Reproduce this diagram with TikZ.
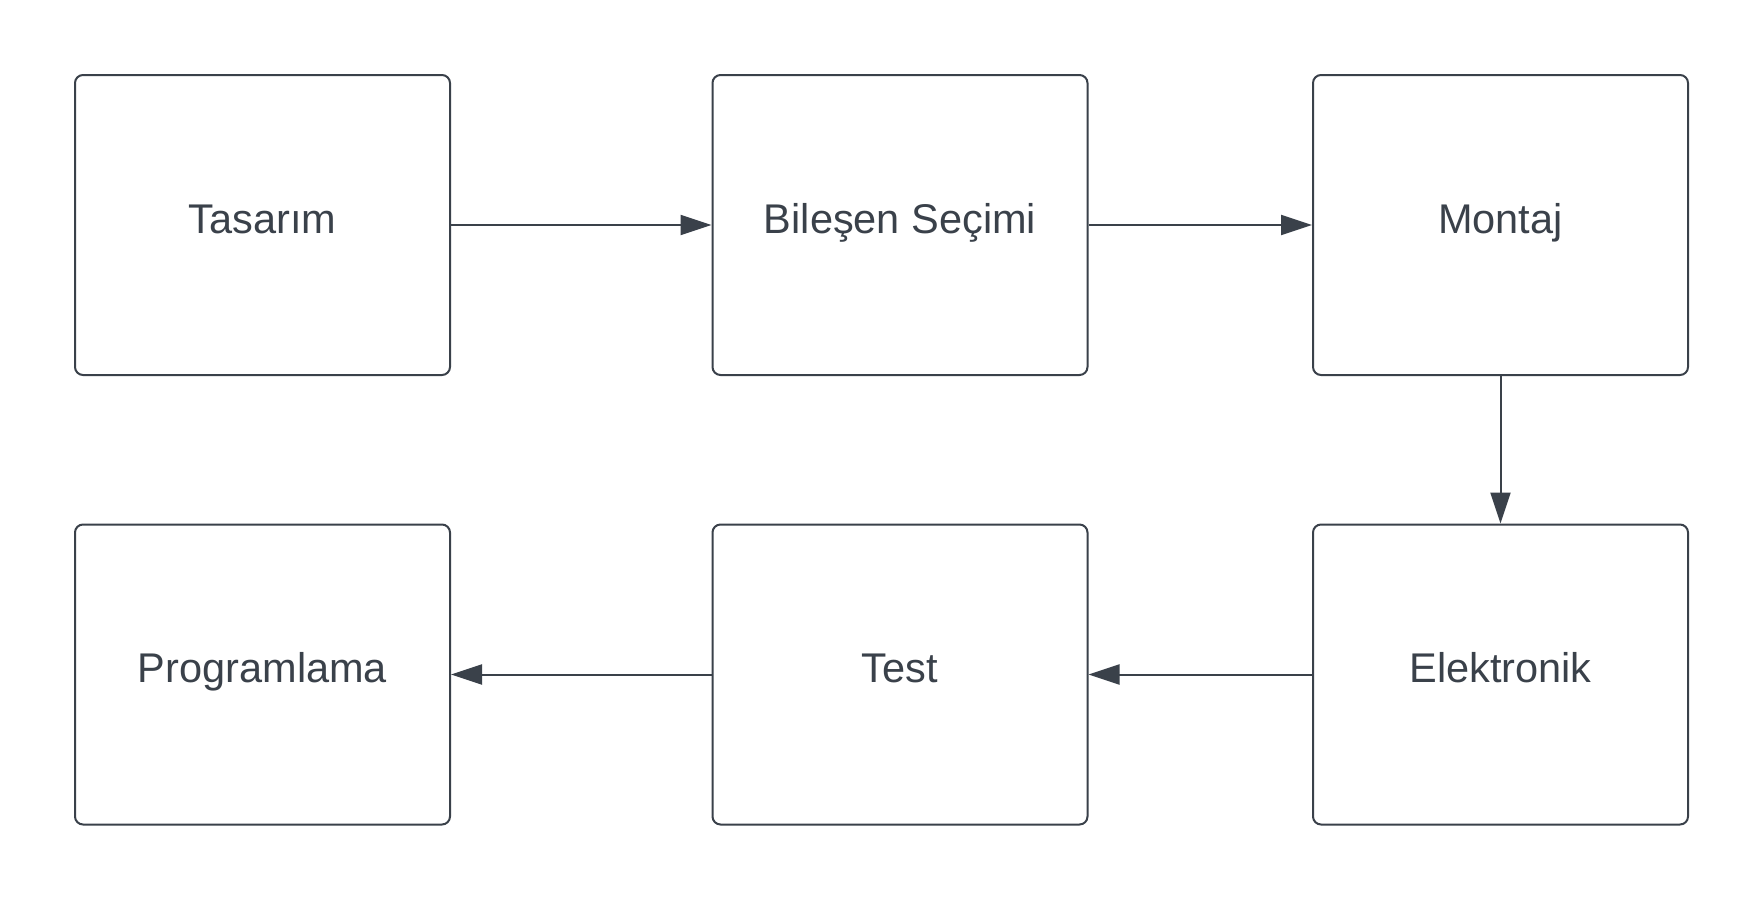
\documentclass[tikz,border=0pt]{standalone}
\usepackage{fontspec}
\setmainfont{Liberation Sans}
\usetikzlibrary{arrows.meta}
\definecolor{ink}{RGB}{58,65,74}
\begin{document}
\begin{tikzpicture}[x=1pt,y=-1pt,
  procbox/.style={draw=ink, line width=2pt, rounded corners=8pt, fill=white,
    minimum width=375pt, minimum height=300pt, inner sep=0pt,
    text=ink, font=\fontsize{41.5}{50}\selectfont, text height=16pt, text depth=0pt},
  flow/.style={draw=ink, line width=2pt, -{Triangle[length=31pt,width=20pt]}}]
\useasboundingbox (0,0) rectangle (1763,900);
\fill[white] (0,0) rectangle (1763,900);
\node[procbox] (tas) at (262.5,225) {Tasarım};
\node[procbox] (bil) at (900,225) {Bileşen Seçimi};
\node[procbox] (mon) at (1500.5,225) {Montaj};
\node[procbox] (ele) at (1500.5,674.5) {Elektronik};
\node[procbox] (tes) at (900,674.5) {Test};
\node[procbox] (pro) at (262.5,674.5) {Programlama};
\draw[flow] (tas.east) -- (bil.west);
\draw[flow] (bil.east) -- (mon.west);
\draw[flow] (mon.south) -- (ele.north);
\draw[flow] (ele.west) -- (tes.east);
\draw[flow] (tes.west) -- (pro.east);
\end{tikzpicture}
\end{document}
